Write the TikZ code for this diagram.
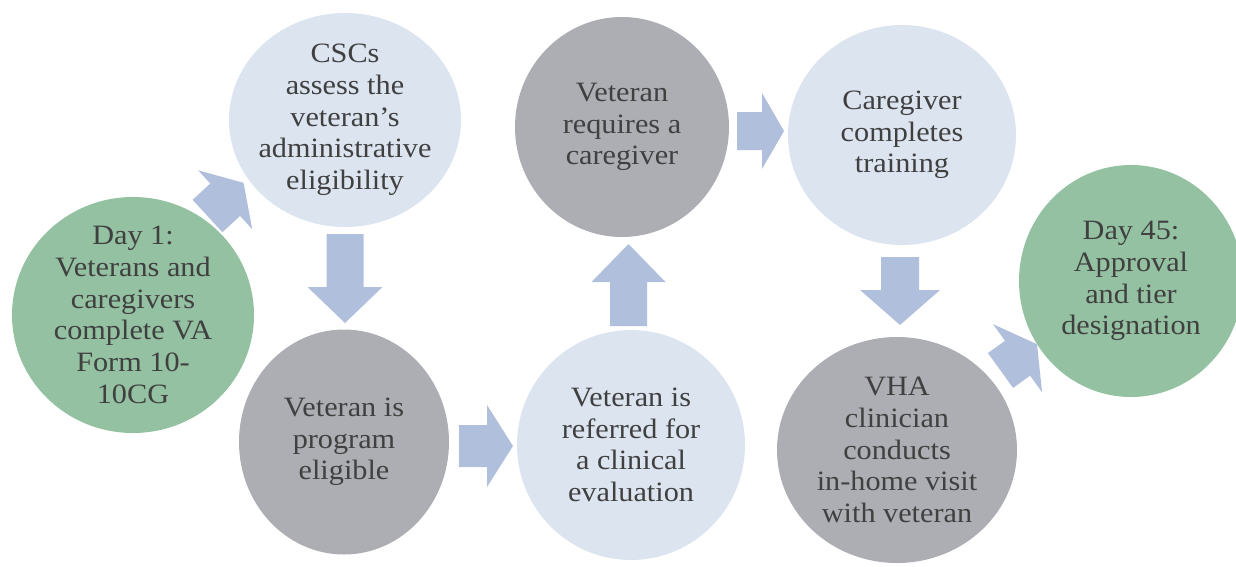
\documentclass[tikz,border=0pt]{standalone}
\usepackage{fontspec}
\setmainfont{Liberation Serif}[FakeStretch=1.08]
\usetikzlibrary{shapes.geometric}
\definecolor{cgreen}{HTML}{93C1A1}
\definecolor{cblue}{HTML}{DCE4F0}
\definecolor{cgray}{HTML}{ADAEB4}
\definecolor{carrow}{HTML}{B0C0DC}
\definecolor{ctext}{HTML}{404040}
\tikzset{
  bubble/.style={ellipse, inner sep=0pt, draw=none},
  txt/.style={align=center, text=ctext, font=\fontsize{28}{31.7}\selectfont, inner sep=0pt},
  pics/barrow/.style n args={4}{code={
    \fill[carrow] (0,-#3/2) -- (#1-#2,-#3/2) -- (#1-#2,-#4/2) -- (#1,0)
      -- (#1-#2,#4/2) -- (#1-#2,#3/2) -- (0,#3/2) -- cycle;}}
}
\begin{document}
\begin{tikzpicture}[x=1pt,y=-1pt]
\useasboundingbox (0,0) rectangle (1236,566);
\clip (0,0) rectangle (1236,566);
% bubbles
\node[bubble, fill=cgreen, minimum width=242, minimum height=236] (c1) at (133,315) {};
\node[bubble, fill=cblue,  minimum width=232, minimum height=214] (c2) at (345,120) {};
\node[bubble, fill=cgray,  minimum width=210, minimum height=225] (c3) at (344,442) {};
\node[bubble, fill=cblue,  minimum width=228, minimum height=230] (c4) at (631,445) {};
\node[bubble, fill=cgray,  minimum width=214, minimum height=220] (c5) at (622,127) {};
\node[bubble, fill=cblue,  minimum width=228, minimum height=220] (c6) at (902,135) {};
\node[bubble, fill=cgray,  minimum width=240, minimum height=226] (c7) at (897,450) {};
\node[bubble, fill=cgreen, minimum width=224, minimum height=232] (c8) at (1131,281) {};
% texts
\node[txt] (t1) at (c1) {Day 1:\\Veterans and\\caregivers\\complete VA\\Form 10-\\10CG};
\node[txt] (t2) at (c2) {CSCs\\assess the\\veteran’s\\administrative\\eligibility};
\node[txt] (t3) at (c3) {Veteran is\\program\\eligible};
\node[txt] (t4) at (c4) {Veteran is\\referred for\\a clinical\\evaluation};
\node[txt] (t5) at (c5) {Veteran\\requires a\\caregiver};
\node[txt] (t6) at (c6) {Caregiver\\completes\\training};
\node[txt] (t7) at (c7) {VHA\\clinician\\conducts\\in-home visit\\with veteran};
\node[txt] (t8) at (c8) {Day 45:\\Approval\\and tier\\designation};
% block arrows
\pic[rotate=42.6] at (207.5,216) {barrow={49}{25}{44}{80}};
\pic[rotate=-90] at (345,234) {barrow={89}{36}{37}{75}};
\pic at (459,446) {barrow={54}{26}{42}{82}};
\pic[rotate=90] at (628.5,326) {barrow={82}{38}{37}{74}};
\pic at (737,131) {barrow={47}{22}{38}{76}};
\pic[rotate=-90] at (900,257) {barrow={68}{35}{38}{80}};
\pic[rotate=35.8] at (1000.5,370.5) {barrow={45}{24}{43}{84}};
\end{tikzpicture}
\end{document}
